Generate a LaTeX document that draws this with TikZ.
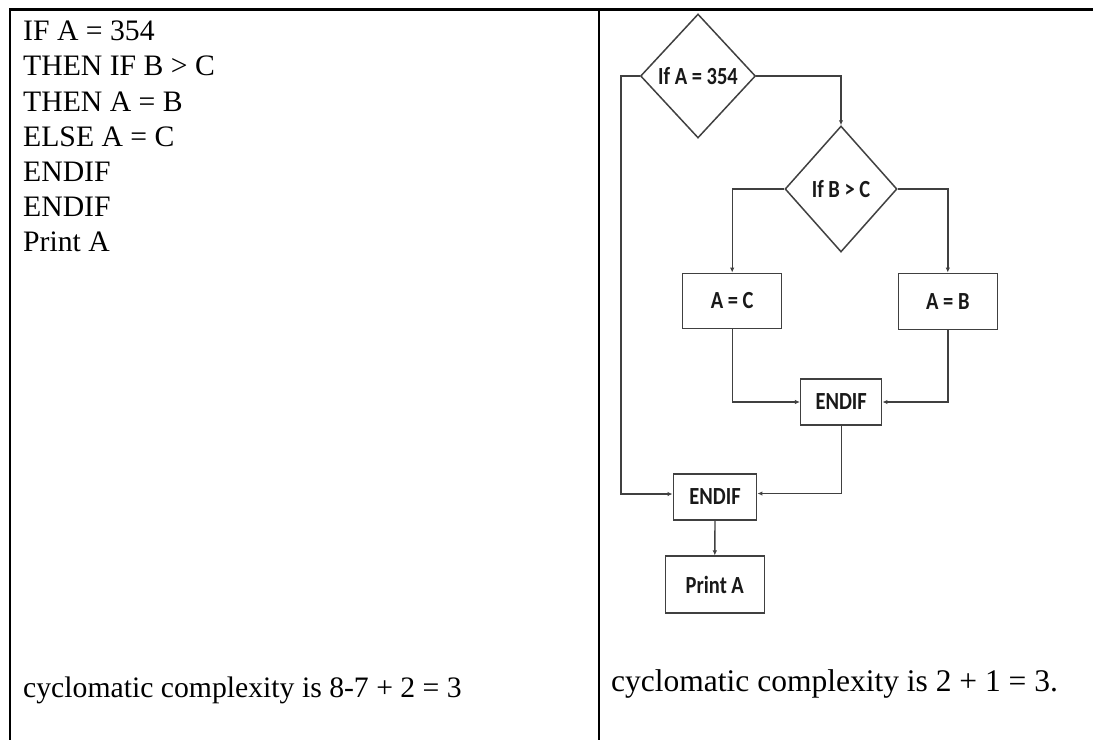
\documentclass[tikz,border=0pt]{standalone}
\usepackage{fontspec}
\usepackage{graphicx}
\setmainfont{Liberation Serif}
\newfontfamily\fcfont{Carlito}
\usetikzlibrary{shapes.geometric,arrows.meta}
\tikzset{
  tbl/.style={line width=2.2pt,black},
  code/.style={anchor=base west,inner sep=0pt,font=\fontsize{29.7}{35}\selectfont},
  flow/.style={draw=black!75,line width=1.5pt,inner sep=0pt,font=\fcfont\bfseries\fontsize{20.5}{22}\selectfont,text=black!90},
  dia/.style={flow,diamond,aspect=1},
  boxn/.style={flow,rectangle},
  arr/.style={draw=black!75,line width=1.4pt,-{Latex[length=5pt,width=4.5pt]}},
  ln/.style={draw=black!75,line width=1.4pt}
}
\newcommand{\st}[1]{\scalebox{1}[1.2]{#1}}
\begin{document}
\begin{tikzpicture}[x=1pt,y=-1pt]
\useasboundingbox (0,0) rectangle (1093,740);
% table rules
\draw[tbl] (10,9.5) -- (1093,9.5);
\draw[tbl] (10,8.4) -- (10,740);
\draw[tbl] (599,9.5) -- (599,740);
% code
\node[code] (c1) at (23,40.7) {IF A = 354};
\node[code] (c2) at (23,75.9) {THEN IF B > C};
\node[code] (c3) at (23,111.1) {THEN A = B};
\node[code] (c4) at (23,146.3) {ELSE A = C};
\node[code] (c5) at (23,181.5) {ENDIF};
\node[code] (c6) at (23,216.6) {ENDIF};
\node[code] (c7) at (23,251.8) {Print A};
% bottom texts
\node[code] (t1) at (23,697) {cyclomatic complexity is 8-7 + 2 = 3};
\node[code,font=\fontsize{31.5}{36}\selectfont] (t2) at (611,691) {cyclomatic complexity is 2 + 1 = 3.};
% flowchart
\node[dia,minimum width=115pt,minimum height=124pt] (d1) at (698,76) {\st{If A = 354}};
\node[dia,minimum width=112pt,minimum height=126pt] (d2) at (841,189) {\st{If B > C}};
\node[boxn,minimum width=99pt,minimum height=55pt] (bac) at (732.2,300.8) {\st{A = C}};
\node[boxn,minimum width=99pt,minimum height=56pt] (bab) at (947.8,301.3) {\st{A = B}};
\node[boxn,minimum width=81pt,minimum height=46pt] (e1) at (841.2,402) {\st{ENDIF}};
\node[boxn,minimum width=83.4pt,minimum height=46pt] (e2) at (715,497) {\st{ENDIF}};
\node[boxn,minimum width=99pt,minimum height=57pt] (pa) at (714.8,584.7) {\st{Print A}};
\coordinate (lft) at (621,76);
% connectors
\draw[arr] (d1.west) -- (lft) |- ([yshift=3pt]e2.west);
\draw[arr] (d1.east) -| (d2.north);
\draw[arr] (d2.west) -| (bac.north);
\draw[arr] (d2.east) -| (bab.north);
\draw[arr] (bac.south) |- (e1.west);
\draw[arr] (bab.south) |- (e1.east);
\draw[arr] (e1.south) |- ([yshift=3.5pt]e2.east);
\draw[arr] (e2.south) -- (pa.north);
\end{tikzpicture}
\end{document}
